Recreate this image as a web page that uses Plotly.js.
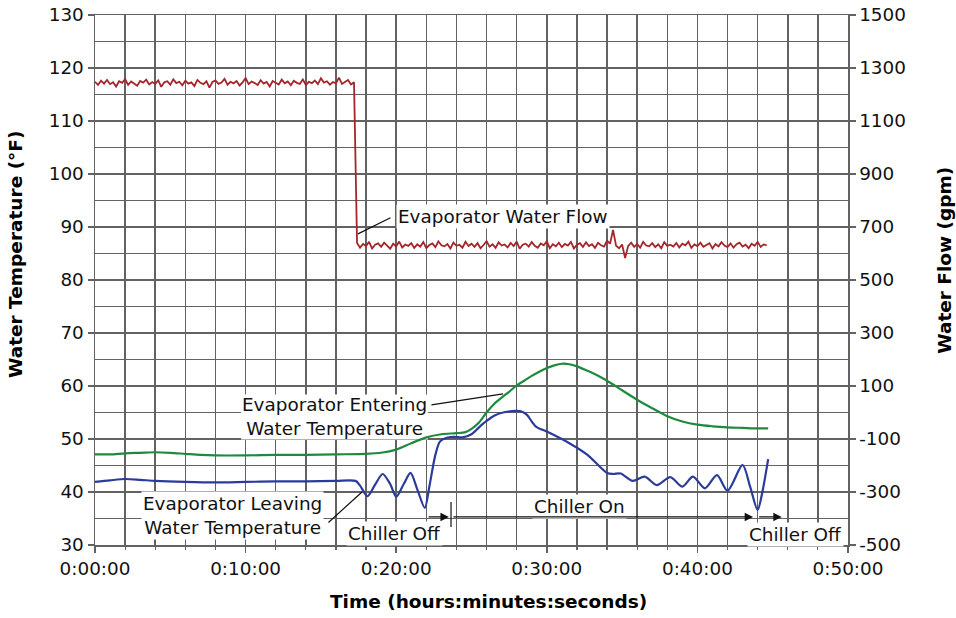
<!DOCTYPE html>
<html><head><meta charset="utf-8">
<script src="https://cdn.plot.ly/plotly-3.0.1.min.js"></script>
<style>html,body{margin:0;padding:0;background:#fff}#chart{width:956px;height:618px}</style>
</head><body><div id="chart"></div>
<script>
// ---- data ----
const timeTickVals = [0, 10, 20, 30, 40, 50];
const timeTickLabels = ['0:00:00', '0:10:00', '0:20:00', '0:30:00', '0:40:00', '0:50:00'];
const flowTickVals = [-500, -300, -100, 100, 300, 500, 700, 900, 1100, 1300, 1500];
const flowTickLabels = ['-500', '-300', '-100', '100', '300', '500', '700', '900', '1100', '1300', '1500'];

// Evaporator water flow (gpm), sampled every 0.2 min starting at 0
const flowStartMin = 0;
const flowStepMin = 0.2;
const flowGpm = [
  1248,1236,1252,1241,1255,1239,1246,1230,1250,1244,
  1258,1236,1249,1242,1233,1251,1245,1256,1238,1247,
  1240,1253,1229,1246,1250,1237,1257,1243,1248,1235,
  1252,1241,1246,1232,1255,1244,1239,1250,1226,1247,
  1253,1240,1245,1259,1237,1248,1242,1251,1234,1246,
  1262,1239,1249,1243,1236,1254,1241,1247,1230,1251,
  1245,1238,1256,1242,1249,1235,1252,1244,1240,1257,
  1236,1248,1243,1253,1239,1261,1245,1250,1237,1247,
  1242,1264,1240,1249,1255,1238,1246,
  640,622,636,628,644,619,633,638,625,641,
  630,618,637,627,645,623,634,629,639,621,
  635,626,643,620,632,638,624,646,631,627,
  636,619,641,629,633,622,644,628,637,625,
  639,620,632,647,626,635,621,642,630,634,
  623,640,628,645,618,633,637,626,643,629,
  622,638,631,646,620,635,627,641,624,636,
  630,644,619,633,639,625,642,628,635,621,
  640,631,626,648,637,689,629,620,634,583,
  628,641,625,636,622,644,630,627,639,624,
  635,620,643,629,633,626,640,623,637,631,
  645,621,634,628,641,625,632,639,619,636,
  627,643,630,624,638,622,635,641,626,633,
  620,637,629,644,625,634,631
];

// Evaporator entering water temperature (°F)
const enteringTime = [0,1,2,3,4,5,6,7,8,10,12,14,16,18,19,20,21,22,23,24,24.6,25,25.5,26,26.5,27,27.5,28,28.5,29,29.5,30,30.5,31,31.5,32,32.5,33,33.5,34,35,36,37,38,39,40,41,42,43,44,44.7];
const enteringTemp = [47.1,47.1,47.3,47.4,47.5,47.4,47.2,47.0,46.9,46.9,47.0,47.0,47.1,47.2,47.4,48.0,49.2,50.3,50.9,51.1,51.3,51.9,53.1,55.0,56.6,57.8,58.9,60.1,61.0,61.9,62.7,63.4,63.9,64.2,64.1,63.7,63.1,62.5,61.8,61.0,59.2,57.4,55.8,54.3,53.3,52.7,52.4,52.2,52.1,52.0,52.0];

// Evaporator leaving water temperature (°F)
const leavingTime = [0,1,2,3,4,6,8,10,12,14,16,17.3,17.6,18.1,18.6,19.1,19.6,20.0,20.5,20.95,21.4,21.9,22.2,22.6,22.9,23.3,23.8,24.4,25.0,25.5,26.0,26.5,27.1,28.0,28.4,28.7,29.0,29.3,30.0,31.5,32.7,34.0,34.4,34.9,35.7,36.5,37.3,38.2,39.0,39.7,40.5,41.3,42.0,43.0,43.5,44.0,44.3,44.7];
const leavingTemp = [41.9,42.2,42.45,42.3,42.1,41.9,41.8,41.9,42.0,42.0,42.1,42.1,41.2,39.2,41.4,43.4,41.5,39.1,41.5,43.6,40.5,37.0,41.0,47.0,49.5,50.2,50.4,50.3,50.9,52.2,53.4,54.4,55.0,55.3,55.1,54.5,53.3,52.3,51.4,49.2,47.0,43.6,43.4,43.5,42.1,42.9,41.3,42.8,41.0,42.9,40.7,43.2,40.25,45.1,41.0,36.6,39.8,46.2];

// ---- chart ----
const FONT = 'DejaVu Sans, Verdana, sans-serif';
const GRID = '#626262';
const TXT = '#111111';

const traces = [
  {x0: flowStartMin, dx: flowStepMin, y: flowGpm, yaxis: 'y2', type: 'scatter', mode: 'lines',
   line: {color: '#A4262A', width: 1.8}, name: 'Evaporator Water Flow', hoverinfo: 'skip'},
  {x: enteringTime, y: enteringTemp, type: 'scatter', mode: 'lines',
   line: {color: '#1F8A3E', width: 2.2, shape: 'spline', smoothing: 0.8}, name: 'Evaporator Entering Water Temperature'},
  {x: leavingTime, y: leavingTemp, type: 'scatter', mode: 'lines',
   line: {color: '#2B3B9C', width: 2.2, shape: 'spline', smoothing: 0.8}, name: 'Evaporator Leaving Water Temperature'}
];

const annFont = {family: FONT, size: 18.4, color: TXT};
const titleFont = {family: FONT, size: 18.5, color: '#000', weight: 'bold'};
const annotations = [
  {x: 27.1, y: 91.9, xref: 'x', yref: 'y', text: 'Evaporator Water Flow', showarrow: false, font: annFont, bgcolor: '#fff', borderpad: 1},
  {x: 17.46, y: 88.7, ax: 19.72, ay: 91.9, xref: 'x', yref: 'y', axref: 'x', ayref: 'y', text: '', showarrow: true, arrowhead: 0, arrowwidth: 1.2, arrowcolor: TXT, standoff: 0, startstandoff: 0},

  {x: 15.9, y: 54.2, xref: 'x', yref: 'y', text: 'Evaporator Entering<br>Water Temperature', showarrow: false, font: annFont},
  {x: 27.09, y: 58.5, ax: 22.24, ay: 56.4, xref: 'x', yref: 'y', axref: 'x', ayref: 'y', text: '', showarrow: true, arrowhead: 0, arrowwidth: 1.2, arrowcolor: TXT, standoff: 0, startstandoff: 0},

  {x: 9.16, y: 35.6, xref: 'x', yref: 'y', text: 'Evaporator Leaving<br>Water Temperature', showarrow: false, font: annFont, bgcolor: '#fff', borderpad: 1},
  {x: 17.73, y: 40.0, ax: 15.4, ay: 34.0, xref: 'x', yref: 'y', axref: 'x', ayref: 'y', text: '', showarrow: true, arrowhead: 0, arrowwidth: 1.2, arrowcolor: TXT, standoff: 0, startstandoff: 0},

  {x: 19.9, y: 32.1, xref: 'x', yref: 'y', text: 'Chiller Off', showarrow: false, font: annFont, bgcolor: '#fff', borderpad: 1},
  {x: 32.2, y: 37.2, xref: 'x', yref: 'y', text: 'Chiller On', showarrow: false, font: annFont, bgcolor: '#fff', borderpad: 1},
  {x: 46.5, y: 31.9, xref: 'x', yref: 'y', text: 'Chiller Off', showarrow: false, font: annFont, bgcolor: '#fff', borderpad: 1},

  {x: 23.5, y: 35.3, ax: 22.05, ay: 35.3, xref: 'x', yref: 'y', axref: 'x', ayref: 'y', text: '', showarrow: true, arrowhead: 2, arrowsize: 1.3, arrowwidth: 1.3, arrowcolor: TXT, standoff: 0, startstandoff: 0},
  {x: 43.7, y: 35.3, ax: 23.7, ay: 35.3, xref: 'x', yref: 'y', axref: 'x', ayref: 'y', text: '', showarrow: true, arrowhead: 2, arrowsize: 1.3, arrowwidth: 1.3, arrowcolor: TXT, standoff: 0, startstandoff: 0},
  {x: 45.6, y: 35.3, ax: 44.0, ay: 35.3, xref: 'x', yref: 'y', axref: 'x', ayref: 'y', text: '', showarrow: true, arrowhead: 2, arrowsize: 1.3, arrowwidth: 1.3, arrowcolor: TXT, standoff: 0, startstandoff: 0},

  // axis titles
  {xref: 'paper', yref: 'paper', x: -0.1062, y: 0.549, xanchor: 'center', yanchor: 'middle', textangle: -90,
   text: 'Water Temperature (°F)', showarrow: false, font: titleFont},
  {xref: 'paper', yref: 'paper', x: 1.1288, y: 0.538, xanchor: 'center', yanchor: 'middle', textangle: -90,
   text: 'Water Flow (gpm)', showarrow: false, font: titleFont},
  {xref: 'paper', yref: 'paper', x: 0.522, y: -0.1075, xanchor: 'center', yanchor: 'middle',
   text: 'Time (hours:minutes:seconds)', showarrow: false, font: titleFont}
];

const shapes = [
  // white backing behind the "Entering" label, drawn between the grid and the data lines
  {type: 'rect', layer: 'between', xref: 'x', yref: 'y', x0: 9.7, x1: 22.1, y0: 49.9, y1: 58.4, fillcolor: '#fff', line: {width: 0}},
  {type: 'line', xref: 'x', yref: 'y', x0: 23.64, x1: 23.64, y0: 33.4, y1: 38.1, line: {color: TXT, width: 1.2}}
];

const tickFont = {family: FONT, size: 18.4, color: TXT};

const layout = {
  width: 956, height: 618,
  margin: {l: 95, r: 108, t: 15, b: 73, pad: 0},
  paper_bgcolor: '#fff', plot_bgcolor: '#fff',
  showlegend: false,
  font: {family: FONT, color: TXT},
  xaxis: {
    range: [0, 50], tickvals: timeTickVals, ticktext: timeTickLabels,
    showgrid: true, gridcolor: GRID, gridwidth: 1.5,
    showline: true, linecolor: GRID, linewidth: 1.5, mirror: true,
    ticks: 'outside', ticklen: 6, tickcolor: GRID, tickwidth: 1.5,
    minor: {dtick: 2, showgrid: true, gridcolor: GRID, gridwidth: 1.5, ticks: 'outside', ticklen: 3, tickcolor: GRID, tickwidth: 1.2},
    tickfont: tickFont, zeroline: false
  },
  yaxis: {
    range: [30, 130], dtick: 10, tick0: 30,
    showgrid: true, gridcolor: GRID, gridwidth: 1.5,
    showline: true, linecolor: GRID, linewidth: 1.5,
    ticks: 'outside', ticklen: 6, tickcolor: GRID, tickwidth: 1.5,
    minor: {dtick: 5, showgrid: true, gridcolor: GRID, gridwidth: 1.5},
    tickfont: tickFont, zeroline: false
  },
  yaxis2: {
    overlaying: 'y', side: 'right', anchor: 'x',
    range: [-500, 1500], tickvals: flowTickVals, ticktext: flowTickLabels,
    showgrid: false, showline: true, linecolor: GRID, linewidth: 1.5,
    ticks: 'outside', ticklen: 6, tickcolor: GRID, tickwidth: 1.5,
    tickfont: tickFont, zeroline: false
  },
  annotations: annotations,
  shapes: shapes
};

Plotly.newPlot('chart', traces, layout, {displayModeBar: false, staticPlot: true});
</script>
</body></html>
